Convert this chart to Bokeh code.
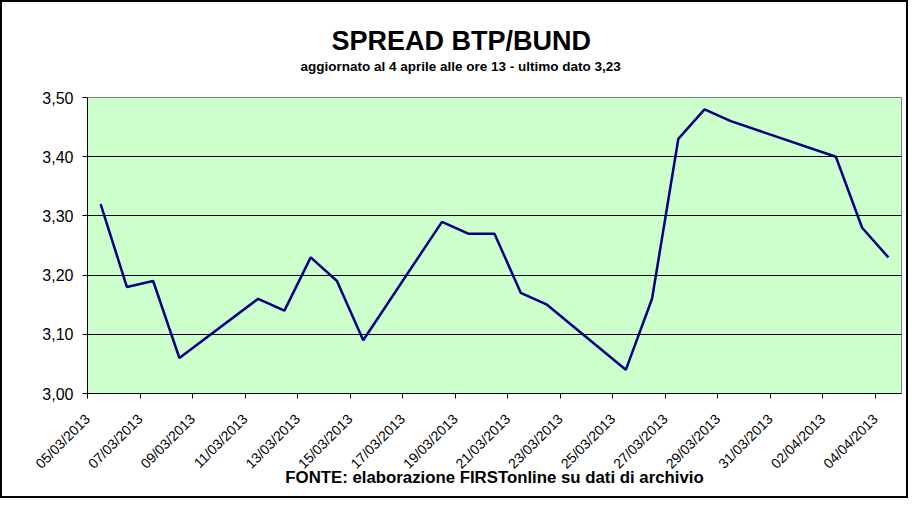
import pandas as pd
from math import pi
from bokeh.plotting import figure
from bokeh.models import (Range1d, FixedTicker, DatetimeTickFormatter,
                          CustomJSTickFormatter, Title, ColumnDataSource,
                          DatetimeAxis)
from bokeh.embed import file_html
from bokeh.resources import INLINE

# ---- data ----
dates = ["2013-03-05", "2013-03-06", "2013-03-07", "2013-03-08",
         "2013-03-11", "2013-03-12", "2013-03-13", "2013-03-14", "2013-03-15",
         "2013-03-18", "2013-03-19", "2013-03-20", "2013-03-21", "2013-03-22",
         "2013-03-25", "2013-03-26", "2013-03-27", "2013-03-28", "2013-03-29",
         "2013-04-02", "2013-04-03", "2013-04-04"]
spread = [3.32, 3.18, 3.19, 3.06,
          3.16, 3.14, 3.23, 3.19, 3.09,
          3.29, 3.27, 3.27, 3.17, 3.15,
          3.04, 3.16, 3.43, 3.48, 3.46,
          3.40, 3.28, 3.23]
x_tick_dates = ["2013-03-05", "2013-03-07", "2013-03-09", "2013-03-11",
                "2013-03-13", "2013-03-15", "2013-03-17", "2013-03-19",
                "2013-03-21", "2013-03-23", "2013-03-25", "2013-03-27",
                "2013-03-29", "2013-03-31", "2013-04-02", "2013-04-04"]
y_ticks = [3.00, 3.10, 3.20, 3.30, 3.40, 3.50]
y_grid = [3.10, 3.20, 3.30, 3.40]
x_start, x_end = "2013-03-05", "2013-04-05"

title_text = "SPREAD  BTP/BUND"
subtitle_text = "aggiornato al 4 aprile alle ore 13 - ultimo dato 3,23"
footer_text = "FONTE: elaborazione FIRSTonline su dati di archivio"

FONT = "Liberation Sans"

# points sit in the middle of their day (Excel date axis)
xs = pd.to_datetime(dates) + pd.Timedelta(hours=12)
src = ColumnDataSource(dict(x=xs, y=spread))

tick_ms = [pd.Timestamp(d).value / 1e6 for d in x_tick_dates]

p = figure(output_backend="svg", toolbar_location=None,
           frame_width=814, frame_height=296,
           min_border_left=85, min_border_right=5,
           min_border_top=95, min_border_bottom=103,
           x_axis_type="datetime",
           x_range=Range1d(pd.Timestamp(x_start), pd.Timestamp(x_end)),
           y_range=Range1d(3.0, 3.5))

p.background_fill_color = "#CCFFCC"
p.border_fill_color = "white"
p.outline_line_color = "#808080"
p.outline_line_width = 1
p.styles = {"border": "2px solid black"}

p.line("x", "y", source=src, line_color="#000080", line_width=2.5)

# grid
p.xgrid.visible = False
p.ygrid.ticker = FixedTicker(ticks=y_grid)
p.ygrid.grid_line_color = "black"
p.ygrid.grid_line_width = 1
p.ygrid.grid_line_alpha = 1.0

# x axis
xa = p.xaxis[0]
xa.ticker = FixedTicker(ticks=tick_ms)
fmt = "%d/%m/%Y"
xa.formatter = DatetimeTickFormatter(days=fmt, months=fmt, hours=fmt,
                                     years=fmt, hourmin=fmt, minutes=fmt,
                                     minsec=fmt, seconds=fmt, milliseconds=fmt,
                                     microseconds=fmt)
xa.major_label_orientation = pi / 4
xa.major_label_text_font = FONT
xa.major_label_text_font_size = "14px"
xa.major_label_text_color = "black"
xa.major_label_standoff = 18
xa.major_tick_out = 5
xa.major_tick_in = 0
xa.minor_tick_out = 0
xa.minor_tick_in = 0
xa.axis_line_color = "black"
xa.major_tick_line_color = "black"
xa.axis_label = footer_text
xa.axis_label_text_font = FONT
xa.axis_label_text_font_size = "16.8px"
xa.axis_label_text_font_style = "bold"
xa.axis_label_text_color = "black"
xa.axis_label_standoff = -12

# y axis
ya = p.yaxis[0]
ya.ticker = FixedTicker(ticks=y_ticks)
ya.formatter = CustomJSTickFormatter(code="return tick.toFixed(2).replace('.', ',');")
ya.major_label_text_font = FONT
ya.major_label_text_font_size = "16px"
ya.major_label_text_color = "black"
ya.major_label_standoff = 9
ya.major_tick_out = 5
ya.major_tick_in = 0
ya.minor_tick_out = 0
ya.minor_tick_in = 0
ya.axis_line_color = "black"
ya.major_tick_line_color = "black"

# spacer axis between frame and subtitle: one white tick, empty label
spacer = DatetimeAxis(ticker=FixedTicker(ticks=tick_ms[:1]),
                      formatter=CustomJSTickFormatter(code="return '';"),
                      axis_line_color=None,
                      major_tick_line_color="white",
                      minor_tick_line_color=None,
                      major_tick_out=24, major_tick_in=0,
                      minor_tick_out=0, minor_tick_in=0,
                      major_label_standoff=0)
p.add_layout(spacer, "above")

# titles (added in order from the frame outward)
p.add_layout(Title(text=subtitle_text, align="left", offset=213,
                   text_font=FONT, text_font_size="13.5px",
                   text_font_style="bold", text_color="black",
                   standoff=0), "above")
p.add_layout(Title(text=title_text, align="left", offset=244,
                   text_font=FONT, text_font_size="27px",
                   text_font_style="bold", text_color="black",
                   standoff=2), "above")

open("out.html", "w").write(file_html(p, INLINE))
